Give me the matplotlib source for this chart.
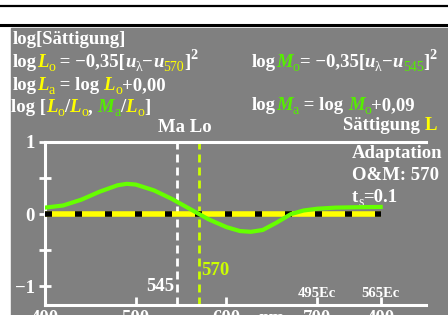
import numpy as np
import matplotlib
matplotlib.use("Agg")
import matplotlib.pyplot as plt
from matplotlib.patches import Rectangle

plt.rcParams['font.family'] = ['Liberation Serif', 'DejaVu Serif']
plt.rcParams['font.weight'] = 'bold'

# data
wavelength = [400, 420, 440, 450, 460, 480, 490, 500, 520, 540, 560, 570, 580,
              600, 615, 627, 640, 655, 671, 685, 700, 720, 740, 770]
log_ma = [0.09, 0.12, 0.20, 0.255, 0.31, 0.40, 0.42, 0.41, 0.33, 0.21, 0.07, 0.0, -0.07,
          -0.18, -0.235, -0.245, -0.22, -0.12, 0.0, 0.05, 0.075, 0.09, 0.095, 0.10]
lo_range = [400, 770]
lo_value = [0.0, 0.0]
ma_line = 545
lo_line = 570
x_ticks = [400, 500, 600, 700, 770]
x_tick_labels = ["400", "500", "600", "700", "400"]
y_ticks = [-1, -0.5, 0, 0.5, 1]
y_tick_labels = ["\u22121", "", "0", "", "1"]

W, H = 448, 315
YEL = '#ffff00'
GRN = '#55ee00'
LIME = '#ccff00'
GRAY = '#808080'
FS = 13.5
PX = 0.72  # points per pixel at 100 dpi

fig = plt.figure(figsize=(W / 100, H / 100), dpi=100)
fig.patch.set_facecolor('white')

# overlay in pixel coordinates
bg = fig.add_axes([0, 0, 1, 1])
bg.set_xlim(0, W)
bg.set_ylim(H, 0)
bg.axis('off')
bg.add_patch(Rectangle((10.5, 28), W, H, color=GRAY, zorder=0))
bg.plot([0, W], [6, 6], color='black', lw=1.6)
bg.plot([0, W], [24.5, 24.5], color='black', lw=2.2)

renderer = fig.canvas.get_renderer()


def rich(x, y, pieces, ha='left'):
    items = []
    total = 0
    for txt, col, kind in pieces:
        size, dy, style, weight = FS, 0, 'normal', 'bold'
        if kind == 'i':
            style = 'italic'
        elif kind == 'sub':
            size, dy, weight = FS * 0.74, 4, 'normal'
        elif kind == 'sup':
            size, dy = FS * 0.75, -8
        t = bg.text(0, y + dy, txt, color=col, fontsize=size, fontstyle=style,
                    fontweight=weight, va='baseline', ha='left')
        w = t.get_window_extent(renderer).width
        items.append((t, w))
        total += w
    if ha == 'right':
        x = x - total
    for t, w in items:
        t.set_x(x)
        x += w


Wt = 'white'
rich(13, 44, [("log[Sättigung]", Wt, 'n')])
rich(13, 67, [("log", Wt, 'n'), ("L", YEL, 'i'), ("o", YEL, 'sub'),
              (" = \u22120,35[", Wt, 'n'), ("u", Wt, 'i'), ("\u03bb", Wt, 'sub'),
              ("\u2212", Wt, 'n'), ("u", Wt, 'i'), ("570", YEL, 'sub'),
              ("]", Wt, 'n'), ("2", Wt, 'sup')])
rich(13, 90, [("log", Wt, 'n'), ("L", YEL, 'i'), ("a", YEL, 'sub'),
              (" = log ", Wt, 'n'), ("L", YEL, 'i'), ("o", YEL, 'sub'),
              ("+0,00", Wt, 'n')])
rich(11, 112, [("log [", Wt, 'n'), ("L", YEL, 'i'), ("o", YEL, 'sub'), ("/", Wt, 'n'),
               ("L", YEL, 'i'), ("o", YEL, 'sub'), (", ", Wt, 'n'),
               ("M", GRN, 'i'), ("a", GRN, 'sub'), ("/", Wt, 'n'),
               ("L", YEL, 'i'), ("o", YEL, 'sub'), ("]", Wt, 'n')])
rich(252, 67, [("log", Wt, 'n'), ("M", GRN, 'i'), ("o", GRN, 'sub'),
               ("= \u22120,35[", Wt, 'n'), ("u", Wt, 'i'), ("\u03bb", Wt, 'sub'),
               ("\u2212", Wt, 'n'), ("u", Wt, 'i'), ("545", GRN, 'sub'),
               ("]", Wt, 'n'), ("2", Wt, 'sup')])
rich(252, 110, [("log", Wt, 'n'), ("M", GRN, 'i'), ("a", GRN, 'sub'),
                (" = log ", Wt, 'n'), ("M", GRN, 'i'), ("o", GRN, 'sub'),
                ("+0,09", Wt, 'n')])
rich(437, 130, [("Sättigung ", Wt, 'n'), ("L", YEL, 'n')], ha='right')
rich(352, 158, [("Adaptation", Wt, 'n')])
rich(352, 180, [("O&M: 570", Wt, 'n')])
rich(352, 202, [("t", Wt, 'n'), ("s", Wt, 'sub'), ("=0.1", Wt, 'n')])
rich(158, 132, [("Ma Lo", Wt, 'n')])

# plot area
ax = fig.add_axes([45 / W, 10 / H, 381 / W, 163 / H])
ax.set_facecolor('none')
ax.set_xlim(400, 820)
ax.set_ylim(-1.26, 1.0)
for s in ['left', 'top', 'bottom']:
    ax.spines[s].set_color('white')
    ax.spines[s].set_linewidth(2.2)
ax.spines['right'].set_visible(False)

# dash patterns given in pixels, converted to points and divided by line width
vdash = (0, (8 * PX / 2.0, 5 * PX / 2.0))
ax.axvline(ma_line, color='white', lw=2.0, linestyle=vdash, zorder=2)
ax.axvline(lo_line, color=LIME, lw=2.0, linestyle=vdash, zorder=2)
ax.plot(lo_range, lo_value, color=YEL, lw=4, solid_capstyle='butt', zorder=3)
ax.plot(lo_range, lo_value, color='black', lw=4,
        linestyle=(0, (7 * PX / 4, 23 * PX / 4)), dash_capstyle='butt', zorder=4)
ax.plot(wavelength, log_ma, color='#66ff00', lw=3, zorder=5)

ax.set_yticks(y_ticks)
ax.set_yticklabels(y_tick_labels)
ax.set_xticks(x_ticks)
ax.set_xticklabels([])
ax.tick_params(axis='y', direction='inout', length=9, width=2, colors='white',
               labelsize=FS, pad=3)
ax.tick_params(axis='x', direction='in', length=6, width=2, colors='white')
for lab in ax.get_yticklabels():
    lab.set_fontweight('bold')

for xv, lab in zip(x_ticks, x_tick_labels):
    ax.text(xv, -1.33, lab, color='white', fontsize=FS,
            ha='center', va='top', clip_on=False)
ax.text(650, -1.33, "nm", color='white', fontsize=FS, ha='center', va='top', clip_on=False)

ax.text(543, -1.0, "545", color='white', fontsize=FS, ha='right', va='center')
ax.text(572, -0.78, "570", color=LIME, fontsize=FS, ha='left', va='center')
ax.text(700, -1.1, "495Ec", color='white', fontsize=FS * 0.78, ha='center', va='center')
ax.text(770, -1.1, "565Ec", color='white', fontsize=FS * 0.78, ha='center', va='center')

fig.savefig("out.png", dpi=100, facecolor=fig.get_facecolor())
